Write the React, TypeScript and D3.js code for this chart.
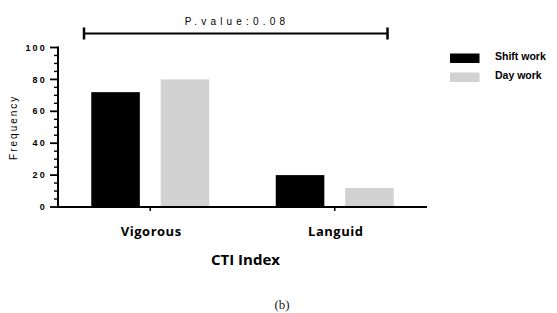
import React, { useRef, useEffect } from 'react';
import * as d3 from 'd3';

const categories = ['Vigorous', 'Languid'];
const seriesNames = ['Shift work', 'Day work'];
const shiftWork = [72, 20];
const dayWork = [80, 12];
const yTicks = [0, 20, 40, 60, 80, 100];
const pValueLabel = 'P.value:0.08';

const colors = ['#000000', '#d2d2d2'];

const App = () => {
  const svgRef = useRef(null);

  useEffect(() => {
    const width = 557;
    const height = 313;
    const left = 58;
    const right = 427;
    const top = 47.5;
    const bottom = 207;

    const svg = d3.select(svgRef.current);
    svg.selectAll('*').remove();
    svg.attr('width', width).attr('height', height);

    const y = d3.scaleLinear().domain([0, 100]).range([bottom, top]);
    const x0 = d3.scaleBand().domain(categories).range([left, right]).padding(0);
    const x1 = d3.scaleBand().domain(seriesNames).range([0, 118]).paddingInner(0.3).paddingOuter(0);

    const rows = categories.map((c, i) => ({ cat: c, values: [shiftWork[i], dayWork[i]] }));

    // bars
    const groups = svg.selectAll('.grp')
      .data(rows)
      .enter()
      .append('g')
      .attr('transform', d => `translate(${x0(d.cat) + x0.bandwidth() / 2 - 59},0)`);

    groups.selectAll('rect')
      .data(d => d.values.map((v, i) => ({ name: seriesNames[i], v, i })))
      .enter()
      .append('rect')
      .attr('x', d => x1(d.name))
      .attr('width', x1.bandwidth())
      .attr('y', d => y(d.v))
      .attr('height', d => y(0) - y(d.v))
      .attr('fill', d => colors[d.i]);

    // y axis with minor ticks
    const yAxis = svg.append('g');
    yAxis.append('line')
      .attr('x1', left).attr('x2', left)
      .attr('y1', y(100) - 1).attr('y2', y(0) + 1)
      .attr('stroke', '#000').attr('stroke-width', 2);
    d3.range(0, 101, 5).forEach(v => {
      const major = v % 20 === 0;
      yAxis.append('line')
        .attr('x1', left - (major ? 8 : 4)).attr('x2', left)
        .attr('y1', y(v)).attr('y2', y(v))
        .attr('stroke', '#000').attr('stroke-width', major ? 1.8 : 1.4);
    });
    yAxis.selectAll('text')
      .data(yTicks)
      .enter()
      .append('text')
      .attr('x', left - 11)
      .attr('y', d => y(d))
      .attr('dy', '0.35em')
      .attr('text-anchor', 'end')
      .style('font-family', 'Liberation Sans, Arial, sans-serif')
      .style('font-weight', 'bold')
      .style('font-size', '9px')
      .style('letter-spacing', '2.2px')
      .text(d => d);

    svg.append('text')
      .attr('transform', `translate(16.5,${(top + bottom) / 2}) rotate(-90)`)
      .attr('text-anchor', 'middle')
      .style('font-family', 'Liberation Sans, Arial, sans-serif')
      .style('font-size', '10px')
      .style('letter-spacing', '2px')
      .text('Frequency');

    // x axis
    svg.append('line')
      .attr('x1', left).attr('x2', right)
      .attr('y1', y(0)).attr('y2', y(0))
      .attr('stroke', '#000').attr('stroke-width', 2);
    categories.forEach(c => {
      const cx = x0(c) + x0.bandwidth() / 2;
      svg.append('line')
        .attr('x1', cx).attr('x2', cx)
        .attr('y1', y(0)).attr('y2', y(0) + 4)
        .attr('stroke', '#000').attr('stroke-width', 1.5);
      svg.append('text')
        .attr('x', cx + 1)
        .attr('y', 235.5)
        .attr('text-anchor', 'middle')
        .style('font-family', 'Open Sans, sans-serif')
        .style('font-weight', 'bold')
        .style('font-size', '13px')
        .style('letter-spacing', '0.5px')
        .text(c);
    });

    svg.append('text')
      .attr('x', 245.5)
      .attr('y', 265)
      .attr('text-anchor', 'middle')
      .style('font-family', 'Open Sans, sans-serif')
      .style('font-weight', 'bold')
      .style('font-size', '15px')
      .text('CTI Index');

    svg.append('text')
      .attr('x', 282)
      .attr('y', 309)
      .attr('text-anchor', 'middle')
      .attr('fill', '#222')
      .style('font-family', 'Liberation Serif, serif')
      .style('font-size', '13px')
      .text('(b)');

    // significance bracket
    const bx1 = 84;
    const bx2 = 387.5;
    const by = 33.5;
    svg.append('line').attr('x1', bx1).attr('x2', bx2).attr('y1', by).attr('y2', by)
      .attr('stroke', '#000').attr('stroke-width', 2);
    [bx1, bx2].forEach(bx => {
      svg.append('line').attr('x1', bx).attr('x2', bx).attr('y1', by - 6).attr('y2', by + 6)
        .attr('stroke', '#000').attr('stroke-width', 2.5);
    });
    svg.append('text')
      .attr('x', 237)
      .attr('y', 24.5)
      .attr('text-anchor', 'middle')
      .style('font-family', 'Liberation Sans, Arial, sans-serif')
      .style('font-size', '10px')
      .style('letter-spacing', '4.2px')
      .text(pValueLabel);

    // legend
    const legend = svg.selectAll('.leg')
      .data(seriesNames)
      .enter()
      .append('g')
      .attr('transform', (d, i) => `translate(450,${53.5 + i * 19})`);
    legend.append('rect')
      .attr('width', 29.5)
      .attr('height', 9.5)
      .attr('fill', (d, i) => colors[i]);
    legend.append('text')
      .attr('x', 45)
      .attr('y', 3)
      .attr('dy', '0.35em')
      .style('font-family', 'Liberation Sans, Arial, sans-serif')
      .style('font-weight', 'bold')
      .style('font-size', '10.5px')
      .text(d => d);

    return () => {
      d3.select(svgRef.current).selectAll('*').remove();
    };
  }, []);

  return <svg ref={svgRef} style={{ position: 'absolute', left: 0, top: 0 }}></svg>;
};

export default App;
